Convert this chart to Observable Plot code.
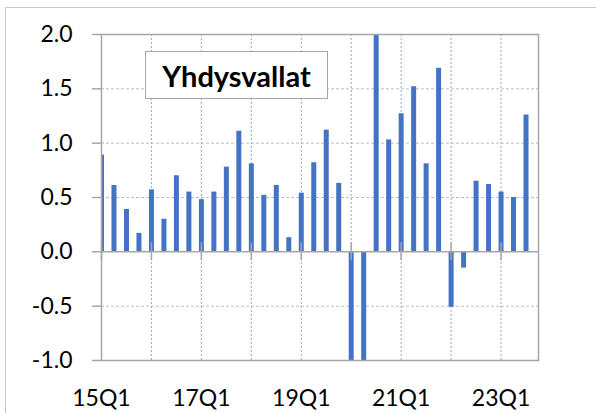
<!DOCTYPE html>
<html>
<head>
<meta charset="utf-8">
<script src="https://cdn.jsdelivr.net/npm/d3@7"></script>
<script src="https://cdn.jsdelivr.net/npm/@observablehq/plot@0.6"></script>
<style>
  body { margin: 0; background: #fff; }
  #wrap { position: relative; width: 596px; height: 413px; overflow: hidden; font-family: Lato, sans-serif; }
  #border { position: absolute; left: 5px; top: 7px; width: 700px; height: 500px;
            border-left: 1.5px solid #C8C8C8; border-top: 1.5px solid #C8C8C8; }
  #chart { position: absolute; left: 0; top: 0; }
  #title { position: absolute; left: 145px; top: 51px; width: 181px; height: 46px;
           border: 1.5px solid #A6A6A6; background: #fff; font-weight: bold; font-size: 29px;
           display: flex; align-items: center; justify-content: center; color: #000; }
</style>
</head>
<body>
<div id="wrap">
  <div id="border"></div>
  <div id="chart"></div>
  <div id="title">Yhdysvallat</div>
</div>
<script>
// neljännekset 15Q1 - 23Q3
const quarters = ["15Q1","15Q2","15Q3","15Q4","16Q1","16Q2","16Q3","16Q4",
  "17Q1","17Q2","17Q3","17Q4","18Q1","18Q2","18Q3","18Q4",
  "19Q1","19Q2","19Q3","19Q4","20Q1","20Q2","20Q3","20Q4",
  "21Q1","21Q2","21Q3","21Q4","22Q1","22Q2","22Q3","22Q4",
  "23Q1","23Q2","23Q3"]
const axisQuarters = [...quarters, "23Q4"]
const values = [0.89, 0.61, 0.39, 0.17, 0.57, 0.30, 0.70, 0.55,
  0.48, 0.55, 0.78, 1.11, 0.81, 0.52, 0.61, 0.13,
  0.54, 0.82, 1.12, 0.63, -1.4, -7.9, 7.8, 1.03,
  1.27, 1.52, 0.81, 1.69, -0.51, -0.15, 0.65, 0.62,
  0.55, 0.50, 1.26]
const yTicks = [-1, -0.5, 0, 0.5, 1, 1.5, 2]
const gridY = [-0.5, 0.5, 1, 1.5]
const labelQuarters = ["15Q1","17Q1","19Q1","21Q1","23Q1"]
const tickQuarters = ["15Q1","16Q1","17Q1","18Q1","19Q1","20Q1","21Q1","22Q1","23Q1"]
const gridX = tickQuarters.slice(1)

const data = quarters.map((q, i) => ({q, v: values[i]}))

let chart = Plot.plot({
  width: 596,
  height: 413,
  marginLeft: 101,
  marginRight: 58,
  marginTop: 34,
  marginBottom: 53,
  style: {
    fontFamily: "Lato, sans-serif",
    fontSize: "23px",
    color: "#000",
    background: "transparent",
    overflow: "visible",
  },
  x: {type: "point", domain: axisQuarters, padding: 0, round: false, axis: null},
  y: {domain: [-1, 2], axis: null},
  marks: [
    Plot.ruleY(gridY, {stroke: "#BFBFBF", strokeDasharray: "3,2"}),
    Plot.ruleX(gridX, {stroke: "#8EA9DB", strokeDasharray: "2,2"}),
    Plot.ruleX(data, {x: "q", y1: 0, y2: "v", stroke: "#4472C4", strokeWidth: 5, clip: true}),
    Plot.ruleY([0], {stroke: "#A6A6A6", strokeWidth: 1.5}),
    Plot.ruleX(tickQuarters, {x: d => d, y1: 0, y2: 0, insetTop: -9, insetBottom: -9, stroke: "#A6A6A6", strokeWidth: 1.5}),
    Plot.frame({stroke: "#A6A6A6", strokeWidth: 1.5}),
    Plot.axisY({ticks: yTicks, tickFormat: d => d.toFixed(1), tickSize: 9, tickPadding: 20, label: null,
      stroke: "#A6A6A6", fill: "#000", strokeWidth: 1.5}),
    Plot.axisX({ticks: labelQuarters, tickSize: 0, tickPadding: 29, label: null, fill: "#000"}),
  ],
})
d3.select("#chart").append(() => chart)
</script>
</body>
</html>
